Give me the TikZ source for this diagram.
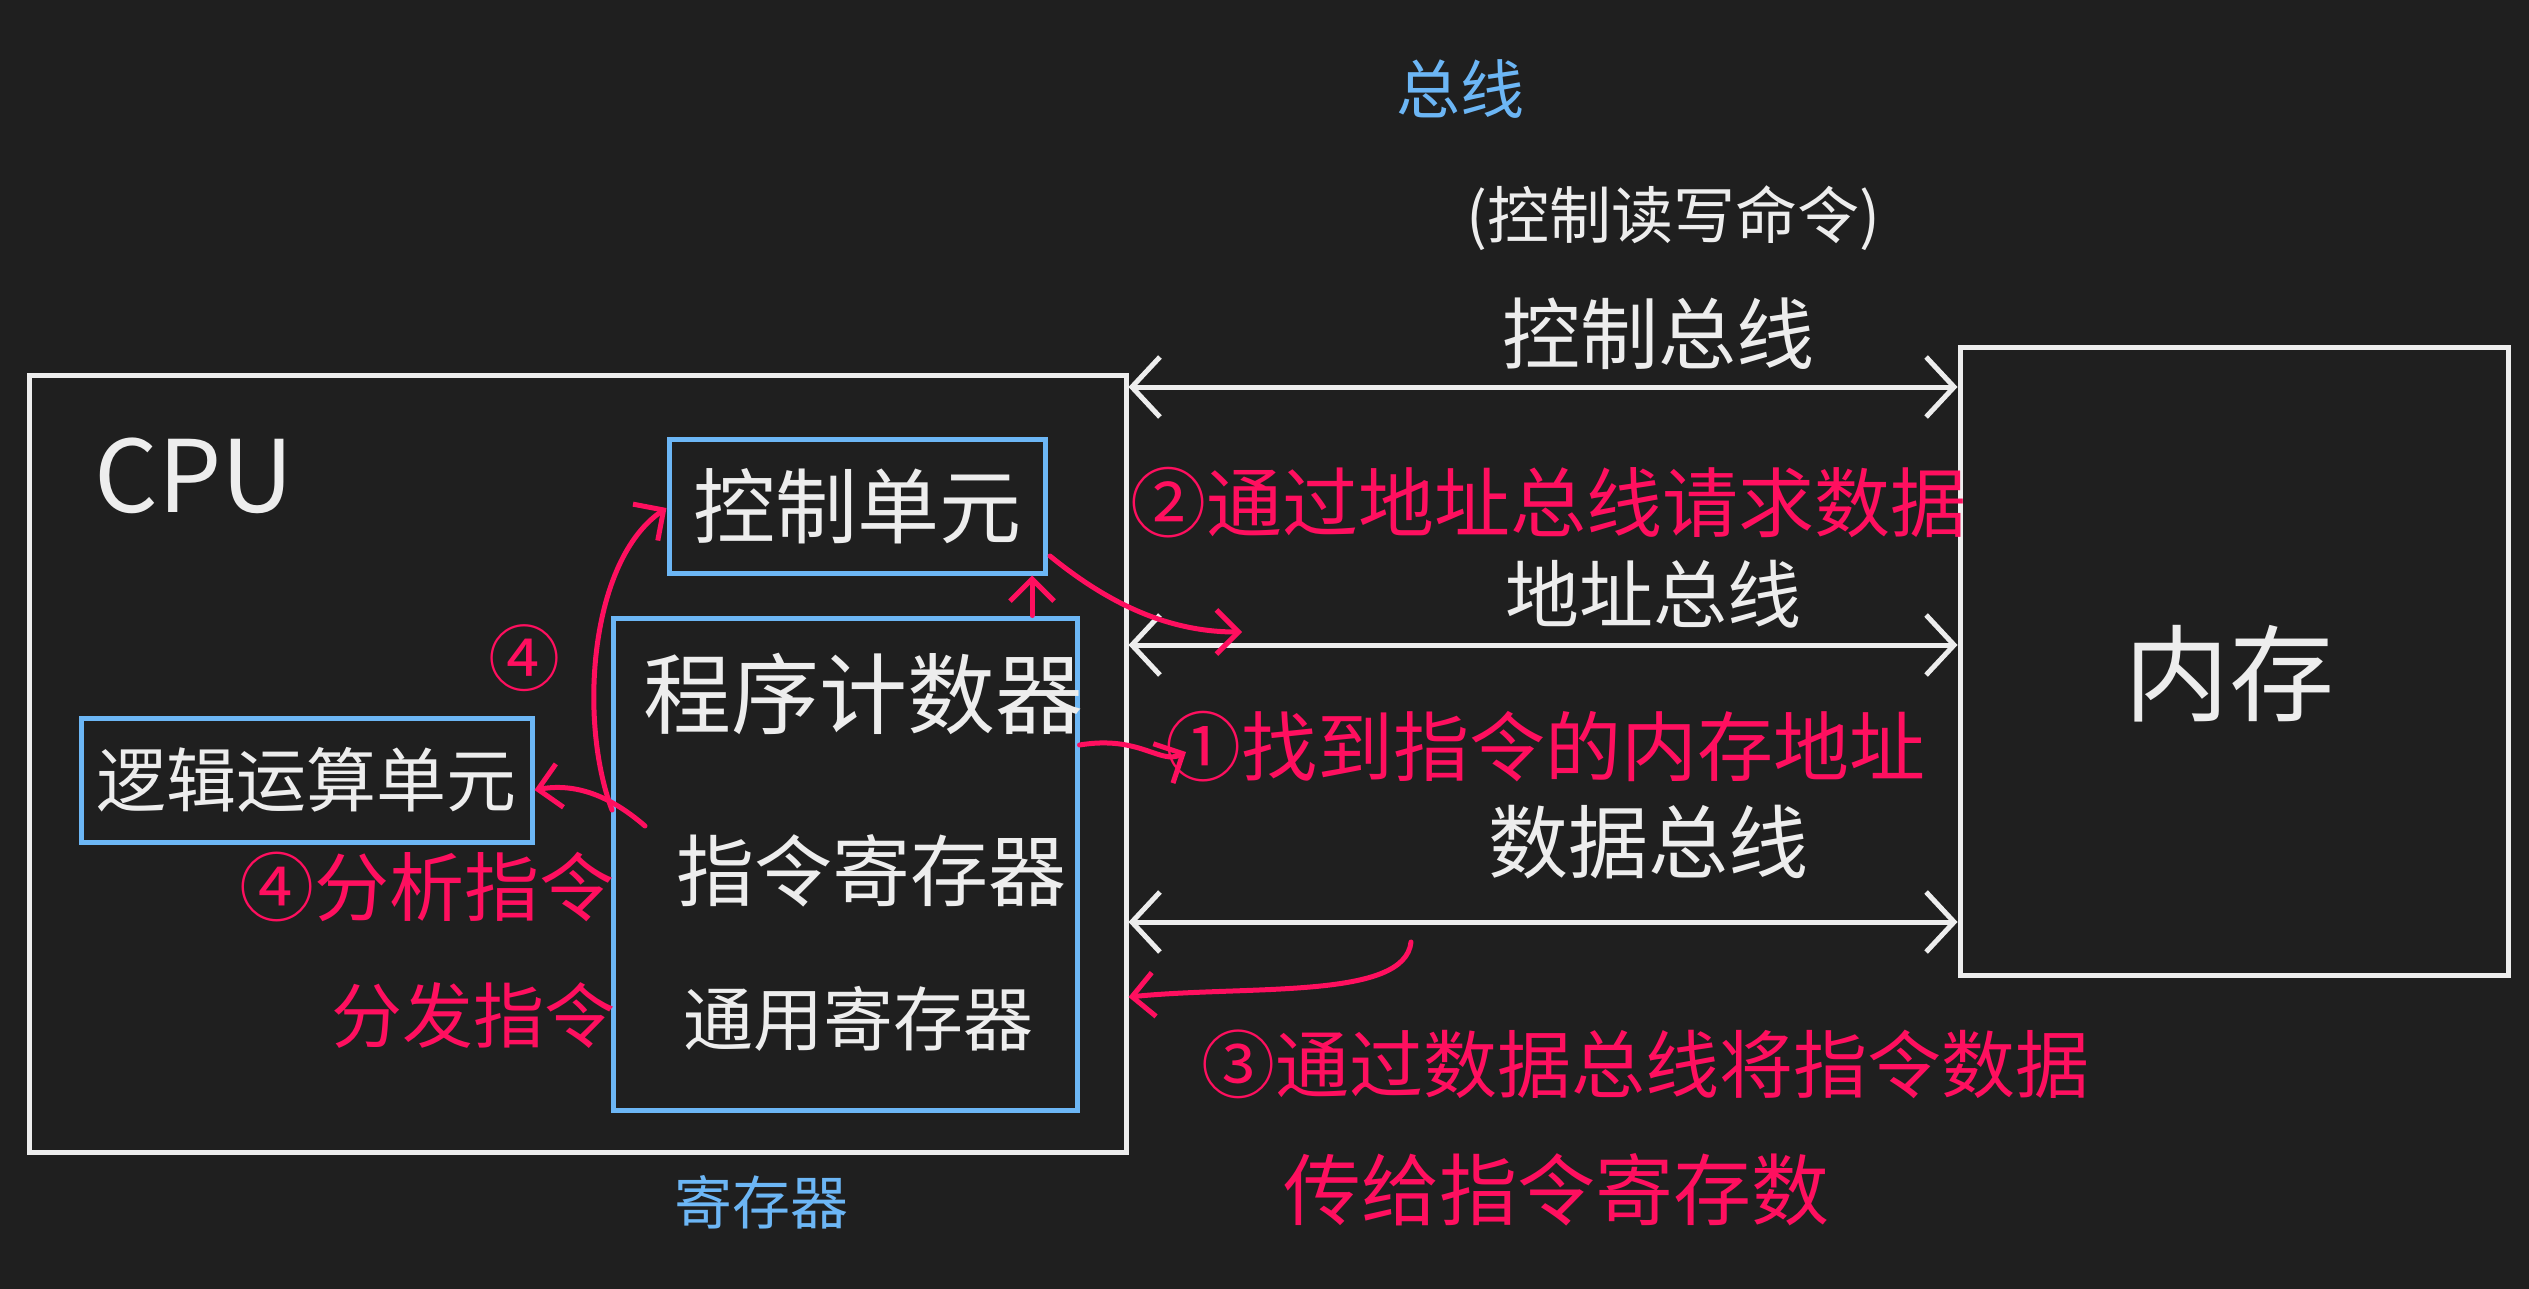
\documentclass[tikz,border=0pt]{standalone}
\usepackage{fontspec}
\setmainfont{Noto Sans CJK SC}
\usetikzlibrary{arrows.meta}
\definecolor{bg}{HTML}{1F1F1F}
\definecolor{wht}{HTML}{EDEDED}
\definecolor{blu}{HTML}{6CB6F5}
\definecolor{rd}{HTML}{FF0F5F}
\newcommand{\fsz}[1]{\fontsize{#1}{#1}\selectfont}
\begin{document}
\begin{tikzpicture}[x=1pt,y=-1pt,
  wbox/.style={draw=wht,line width=5pt,inner sep=0pt},
  bbox/.style={draw=blu,line width=5pt,inner sep=0pt},
  wtxt/.style={text=wht,inner sep=0pt,font=\fsz{#1}},
  btxt/.style={text=blu,inner sep=0pt,font=\fsz{#1}},
  rtxt/.style={text=rd,inner sep=0pt,font=\fsz{#1}},
  bus/.style={draw=wht,line width=5pt,line cap=round,{Straight Barb[length=28pt,width=60pt]}-{Straight Barb[length=28pt,width=60pt]}},
  rarr/.style={draw=rd,line width=5pt,line cap=round,-{Straight Barb[length=22pt,width=44pt]}},
]
\fill[bg] (0,0) rectangle (2529,1289);
\useasboundingbox (0,0) rectangle (2529,1289);

% boxes
\node[wbox,minimum width=1097pt,minimum height=777pt] (cpu) at (577.5,763.5) {};
\node[wbox,minimum width=548pt,minimum height=628pt] (mem) at (2234,661) {};
\node[bbox,minimum width=376pt,minimum height=134pt] (ctrl) at (857,506) {};
\node[bbox,minimum width=464pt,minimum height=492pt] (regs) at (845,864) {};
\node[bbox,minimum width=451pt,minimum height=124pt] (alu) at (306.5,780) {};

% white texts
\node[wtxt=100] (cpulbl) at (194,476) {CPU};
\node[wtxt=82] (ctrllbl) at (857,506) {控制单元};
\node[wtxt=88] (pc) at (863,694) {程序计数器};
\node[wtxt=78] (ir) at (871,871) {指令寄存器};
\node[wtxt=70] (gr) at (858,1019) {通用寄存器};
\node[wtxt=70] (alulbl) at (306.5,780) {逻辑运算单元};
\node[wtxt=105] (memlbl) at (2229,674) {内存};
\node[wtxt=62] (cmd) at (1673,218) {(控制读写命令)};
\node[wtxt=78] (cbl) at (1658,334) {控制总线};
\node[wtxt=74] (abl) at (1653,594) {地址总线};
\node[wtxt=80] (dbl) at (1648,842) {数据总线};

% blue texts
\node[btxt=64] (buslbl) at (1460,89) {总线};
\node[btxt=58] (reglbl) at (761,1202) {寄存器};

% buses
\coordinate (cy) at (0,387);
\coordinate (ay) at (0,645);
\coordinate (dy) at (0,922);
\draw[bus] (cpu.east |- cy) -- (mem.west |- cy);
\draw[bus] (cpu.east |- ay) -- (mem.west |- ay);
\draw[bus] (cpu.east |- dy) -- (mem.west |- dy);

% red texts
\node[rtxt=76] (s2) at (1548,503) {②通过地址总线请求数据};
\node[rtxt=76] (s1) at (1545,747) {①找到指令的内存地址};
\node[rtxt=74] (s3a) at (1645,1064) {③通过数据总线将指令数据};
\node[rtxt=78] (s3b) at (1556,1190) {传给指令寄存数};
\node[rtxt=75] (s4a) at (427,887) {④分析指令};
\node[rtxt=71] (s4b) at (473,1016) {分发指令};
\node[rtxt=72] (s4c) at (524,658) {④};

% red arrows
\coordinate (pcx) at (1032,0);
\draw[rarr] (regs.north -| pcx) -- (ctrl.south -| pcx);
\coordinate (a2s) at (1050,556);
\coordinate (a2e) at (1242,632);
\draw[rarr] (a2s) .. controls (1110,605) and (1170,632) .. (a2e);
\coordinate (a1y) at (0,745);
\coordinate (a1e) at (1186,752);
\draw[rarr] (regs.east |- a1y) .. controls (1140,735) and (1160,765) .. (a1e);
\coordinate (a3s) at (1411,942);
\coordinate (a3y) at (0,997);
\draw[rarr] (a3s) .. controls (1405,1000) and (1250,985) .. (cpu.east |- a3y);
\coordinate (a4s) at (612,810);
\coordinate (a4y) at (0,508);
\draw[rarr] (a4s) .. controls (578,720) and (590,560) .. (ctrl.west |- a4y);
\coordinate (a5s) at (645,826);
\coordinate (a5y) at (0,790);
\draw[rarr] (a5s) .. controls (615,800) and (580,782) .. (alu.east |- a5y);
\end{tikzpicture}
\end{document}
